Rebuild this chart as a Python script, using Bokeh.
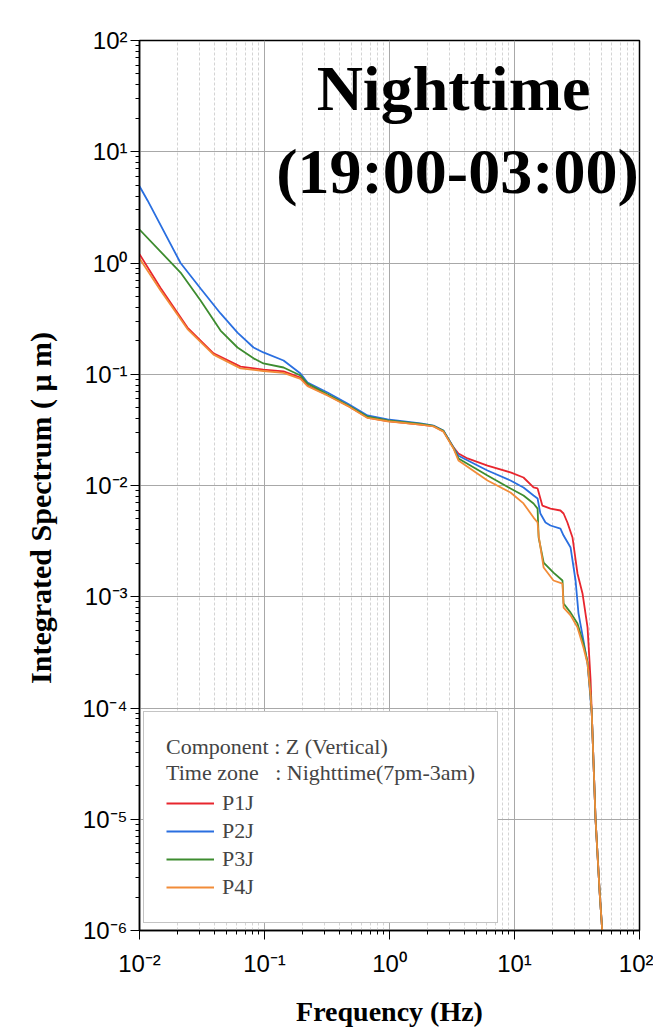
from bokeh.plotting import figure
from bokeh.models import FixedTicker, Label, Legend, LegendItem
from bokeh.embed import file_html
from bokeh.resources import INLINE

# ---------------- data ----------------
series_names = ["P1J", "P2J", "P3J", "P4J"]
series_colors = ["#e8262e", "#2a6fe0", "#3d8c2f", "#f28c38"]

p1j_freq = [0.01, 0.0147, 0.0242, 0.0391, 0.0643, 0.098, 0.142, 0.194, 0.221, 0.319, 0.461,
            0.667, 0.964, 1.77, 2.25, 2.70, 3.25, 3.56, 4.21, 6.08, 9.29, 11.8, 14.2, 15.3,
            16.7, 19.4, 23.3, 24.7, 26.5, 29.1, 31.9, 35.0, 38.4, 40.6, 41.5, 44.5, 48.0, 51.0]
p1j_amp = [1.2, 0.60, 0.263, 0.154, 0.117, 0.110, 0.106, 0.0935, 0.0793, 0.065, 0.0525,
           0.0408, 0.038, 0.0353, 0.0342, 0.0308, 0.022, 0.0194, 0.0175, 0.0151, 0.0131, 0.0118,
           0.0096, 0.0094, 0.0066, 0.0062, 0.00596, 0.0056, 0.00465, 0.00341, 0.00162, 0.00107,
           0.00053, 0.00018, 9e-5, 1e-5, 2.2e-6, 8e-7]

p2j_freq = [0.01, 0.0116, 0.0213, 0.0308, 0.0445, 0.0608, 0.0817, 0.098, 0.142, 0.194, 0.221,
            0.319, 0.461, 0.667, 0.964, 1.77, 2.25, 2.70, 3.25, 3.56, 6.08, 9.29, 11.8, 14.2,
            15.3, 16.1, 17.7, 19.4, 23.3, 24.7, 28.1, 30.8, 32.5, 35.6, 38.4, 40.6, 41.5, 44.5,
            48.0, 51.0]
p2j_amp = [4.9, 3.65, 1.0, 0.59, 0.352, 0.237, 0.174, 0.157, 0.133, 0.1016, 0.0843,
           0.0686, 0.0546, 0.0426, 0.0392, 0.0361, 0.0346, 0.0312, 0.0220, 0.0185, 0.01365,
           0.0111, 0.0096, 0.00813, 0.00764, 0.0056, 0.00465, 0.00437, 0.0041, 0.00355, 0.00277,
           0.0014, 0.00071, 0.000405, 0.00025, 0.00012, 9e-5, 1e-5, 2.2e-6, 8e-7]

p3j_freq = [0.01, 0.0213, 0.0308, 0.0445, 0.0608, 0.0817, 0.098, 0.142, 0.194, 0.221, 0.319,
            0.461, 0.667, 0.964, 1.77, 2.25, 2.70, 3.25, 3.56, 6.08, 9.29, 11.8, 14.2, 15.3,
            15.6, 17.1, 20.5, 24.2, 24.7, 28.1, 31.9, 35.6, 38.4, 40.6, 41.5, 44.5, 48.0, 51.0]
p3j_amp = [2.0, 0.82, 0.46, 0.247, 0.174, 0.139, 0.125, 0.115, 0.0975, 0.0826, 0.066,
           0.053, 0.0415, 0.0385, 0.0358, 0.0343, 0.031, 0.0218, 0.0175, 0.0123, 0.0094, 0.00813,
           0.00689, 0.0062, 0.00341, 0.00203, 0.00165, 0.0014, 0.00087, 0.00072, 0.000575,
           0.00038, 0.00026, 0.00013, 9e-5, 1e-5, 2.2e-6, 8e-7]

p4j_freq = [0.01, 0.0147, 0.0242, 0.0391, 0.0643, 0.098, 0.142, 0.194, 0.221, 0.319, 0.461,
            0.667, 0.964, 1.77, 2.25, 2.70, 3.25, 3.56, 6.08, 9.29, 11.8, 14.2, 15.3, 15.6,
            17.1, 20.5, 24.2, 24.7, 28.1, 31.9, 35.6, 38.4, 40.6, 41.5, 44.5, 48.0, 51.0]
p4j_amp = [1.1, 0.57, 0.255, 0.150, 0.113, 0.107, 0.103, 0.091, 0.078, 0.0645, 0.052,
           0.0405, 0.0378, 0.0352, 0.034, 0.0305, 0.0215, 0.0168, 0.0111, 0.00865, 0.0069,
           0.00515, 0.00465, 0.00355, 0.00183, 0.0014, 0.00131, 0.0008, 0.00068, 0.00053,
           0.00035, 0.00025, 0.00013, 9e-5, 1e-5, 2.2e-6, 8e-7]

x_decades = [0.01, 0.1, 1, 10, 100]
x_tick_labels = ["10\u207b\u00b2", "10\u207b\u00b9", "10\u2070", "10\u00b9", "10\u00b2"]
y_decades = [1e-6, 1e-5, 1e-4, 1e-3, 1e-2, 1e-1, 1, 10, 100]
y_tick_labels = ["10\u207b\u2076", "10\u207b\u2075", "10\u207b\u2074", "10\u207b\u00b3",
                 "10\u207b\u00b2", "10\u207b\u00b9", "10\u2070", "10\u00b9", "10\u00b2"]

title_lines = ["Nighttime", "(19:00-03:00)"]
legend_title = "Component : Z (Vertical)\nTime zone\u00a0\u00a0\u00a0: Nighttime(7pm-3am)"

# ---------------- figure ----------------
p = figure(width=653, height=1033, x_axis_type="log", y_axis_type="log",
           x_range=(0.01, 100), y_range=(1e-6, 100),
           output_backend="svg", toolbar_location=None,
           min_border_left=139, min_border_right=14, min_border_top=40, min_border_bottom=103)
p.background_fill_color = "white"
p.border_fill_color = "white"
p.outline_line_color = "black"
p.outline_line_width = 1.5

x_minor = [m * d for d in x_decades[:-1] for m in range(2, 10)]
y_minor = [m * d for d in y_decades[:-1] for m in range(2, 10)]
p.xaxis.ticker = FixedTicker(ticks=x_decades, minor_ticks=x_minor)
p.yaxis.ticker = FixedTicker(ticks=y_decades, minor_ticks=y_minor)
p.xaxis.major_label_overrides = {v: t for v, t in zip(x_decades, x_tick_labels)}
p.yaxis.major_label_overrides = {v: t for v, t in zip(y_decades, y_tick_labels)}

for ax in (p.xaxis[0], p.yaxis[0]):
    ax.axis_line_color = "black"
    ax.axis_line_width = 1.5
    ax.major_tick_in = 0
    ax.major_tick_out = 9
    ax.minor_tick_in = 0
    ax.minor_tick_out = 4
    ax.major_tick_line_color = "black"
    ax.minor_tick_line_color = "black"
    ax.major_label_text_font = "Liberation Sans"
    ax.major_label_text_font_size = "24px"
    ax.major_label_text_color = "black"
    ax.axis_label_text_font = "Liberation Serif"
    ax.axis_label_text_font_style = "bold"
    ax.axis_label_text_color = "black"

p.xaxis.axis_label = "Frequency (Hz)"
p.xaxis.axis_label_text_font_size = "28px"
p.xaxis.major_label_standoff = 10
p.xaxis.axis_label_standoff = 16
# trailing no-break spaces nudge the visible label a little lower, as in the original
p.yaxis.axis_label = "Integrated Spectrum ( \u03bc m)" + "\u00a0" * 6
p.yaxis.axis_label_text_font_size = "30px"
p.yaxis.major_label_standoff = 3
p.yaxis.axis_label_standoff = 22

p.xgrid.grid_line_color = "#a8a8a8"
p.xgrid.grid_line_width = 1
p.xgrid.minor_grid_line_color = "#d4d4d4"
p.xgrid.minor_grid_line_dash = "3 2"
p.ygrid.grid_line_color = "#a8a8a8"
p.ygrid.grid_line_width = 1
p.ygrid.minor_grid_line_color = None

all_freq = [p1j_freq, p2j_freq, p3j_freq, p4j_freq]
all_amp = [p1j_amp, p2j_amp, p3j_amp, p4j_amp]
items = []
for name, col, f, a in zip(series_names, series_colors, all_freq, all_amp):
    r = p.line(f, a, line_color=col, line_width=1.8)
    items.append(LegendItem(label=name, renderers=[r]))

legend = Legend(items=items, location=(4, 7), title=legend_title)
legend.title_text_font = "Liberation Serif"
legend.title_text_font_style = "normal"
legend.title_text_font_size = "22px"
legend.title_text_line_height = 1.3
legend.title_standoff = 4
legend.label_text_font = "Liberation Serif"
legend.label_text_font_size = "22px"
legend.glyph_width = 48
legend.glyph_height = 22
legend.label_height = 22
legend.spacing = 2
legend.label_standoff = 8
legend.padding = 22
legend.margin = 0
legend.border_line_color = "#8a8a8a"
legend.border_line_width = 1.5
legend.background_fill_color = "white"
legend.background_fill_alpha = 1
p.add_layout(legend)

p.add_layout(Label(x=3.25, y=37.0, text=title_lines[0], text_align="center",
                   text_baseline="alphabetic", text_font="Liberation Serif",
                   text_font_style="bold", text_font_size="64px", text_color="black"))
p.add_layout(Label(x=3.5, y=6.7, text=title_lines[1], text_align="center",
                   text_baseline="alphabetic", text_font="Liberation Serif",
                   text_font_style="bold", text_font_size="64px", text_color="black"))

open("out.html", "w").write(file_html(p, INLINE))
